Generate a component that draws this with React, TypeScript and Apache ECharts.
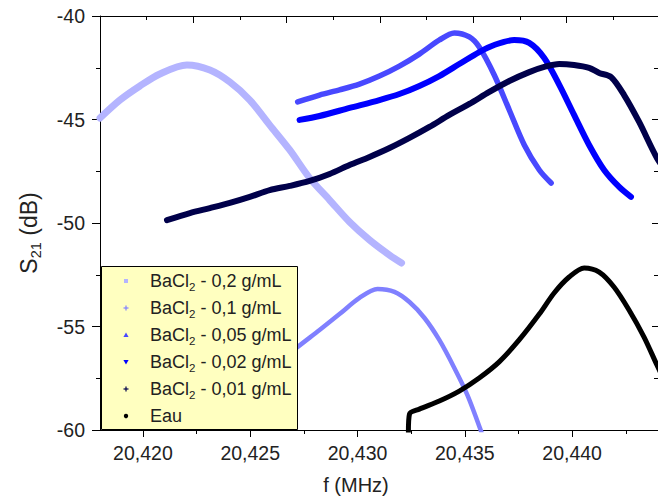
import React, { useEffect, useRef } from 'react';
import * as echarts from 'echarts';

const SERIES_NAMES = [
  'BaCl2 - 0,2 g/mL',
  'BaCl2 - 0,1 g/mL',
  'BaCl2 - 0,05 g/mL',
  'BaCl2 - 0,02 g/mL',
  'BaCl2 - 0,01 g/mL',
  'Eau',
];
const SERIES_COLORS = ['#b4b4ff', '#8080ff', '#4848ff', '#0000ff', '#00004a', '#000000'];
const SERIES_WIDTHS = [7, 4.5, 5.5, 6, 6, 5];
const LEGEND_MARKERS = ['square', 'plus', 'triangle', 'invtriangle', 'plus', 'dot'];

// BaCl2 0,2 g/mL
const F_02 = [20.418, 20.41893, 20.41986, 20.42079, 20.42205, 20.42312, 20.42405, 20.42498, 20.42591, 20.42684, 20.42777, 20.4287, 20.42963, 20.43056, 20.43149, 20.43205];
const S_02 = [-44.93, -44.06, -43.38, -42.8, -42.37, -42.61, -43.19, -44.06, -45.27, -46.47, -47.83, -48.89, -49.95, -50.82, -51.55, -51.93];

// BaCl2 0,1 g/mL
const F_01 = [20.4266, 20.42721, 20.42823, 20.42916, 20.43009, 20.43093, 20.43172, 20.43242, 20.43312, 20.43381, 20.43451, 20.43512, 20.43577];
const S_01 = [-56.52, -55.99, -55.17, -54.4, -53.62, -53.19, -53.33, -53.82, -54.59, -55.65, -57.0, -58.31, -60.1];

// BaCl2 0,05 g/mL
const F_005 = [20.42721, 20.42823, 20.42916, 20.43009, 20.43102, 20.43195, 20.43288, 20.43381, 20.43451, 20.43521, 20.43567, 20.43637, 20.43707, 20.43777, 20.43847, 20.43902];
const S_005 = [-44.15, -43.82, -43.57, -43.29, -42.9, -42.42, -41.84, -41.16, -40.82, -41.01, -41.5, -42.85, -44.54, -46.23, -47.44, -48.07];

// BaCl2 0,02 g/mL
const F_002 = [20.4273, 20.42823, 20.42963, 20.43102, 20.43195, 20.43288, 20.43381, 20.43474, 20.43567, 20.43637, 20.4373, 20.438, 20.4387, 20.4394, 20.44009, 20.44079, 20.44149, 20.44219, 20.44274];
const S_002 = [-45.02, -44.83, -44.44, -44.06, -43.77, -43.38, -42.9, -42.32, -41.74, -41.4, -41.16, -41.3, -42.03, -43.33, -44.78, -46.23, -47.44, -48.26, -48.74];

// BaCl2 0,01 g/mL
const F_001 = [20.42112, 20.42219, 20.42312, 20.42405, 20.42498, 20.42591, 20.42684, 20.42777, 20.4287, 20.42963, 20.43056, 20.43149, 20.43242, 20.43335, 20.43428, 20.43521, 20.43614, 20.43707, 20.438, 20.4387, 20.4394, 20.44009, 20.44079, 20.44126, 20.44181, 20.44242, 20.44312, 20.44395, 20.44442];
const S_001 = [-49.86, -49.52, -49.28, -49.03, -48.74, -48.41, -48.21, -47.97, -47.63, -47.2, -46.81, -46.38, -45.89, -45.36, -44.78, -44.25, -43.67, -43.14, -42.71, -42.46, -42.32, -42.37, -42.51, -42.75, -42.95, -43.82, -45.12, -46.86, -47.54];

// Eau
const F_EAU = [20.43237, 20.43242, 20.43288, 20.43381, 20.43474, 20.43567, 20.4366, 20.43753, 20.43847, 20.43916, 20.43986, 20.44056, 20.44126, 20.44195, 20.44265, 20.44335, 20.44395, 20.44428];
const S_EAU = [-60.1, -59.23, -58.99, -58.6, -58.12, -57.49, -56.71, -55.65, -54.4, -53.38, -52.61, -52.17, -52.37, -53.09, -54.2, -55.51, -56.86, -57.58];

const FREQS = [F_02, F_01, F_005, F_002, F_001, F_EAU];
const S21S = [S_02, S_01, S_005, S_002, S_001, S_EAU];

const X_MIN = 20.418;
const X_MAX = 20.444;
const X_MAJOR_TICKS = [20.42, 20.425, 20.43, 20.435, 20.44];
const X_MINOR_TICKS = [20.4225, 20.4275, 20.4325, 20.4375, 20.4425];
const Y_MIN = -60;
const Y_MAX = -40;

const FONT = "'Liberation Sans', Arial, sans-serif";
const TEXT = '#222';

function legendLabel(name: string) {
  return name.startsWith('BaCl2')
    ? '{a|BaCl}{b|2}{a|' + name.slice(5) + '}'
    : '{a|' + name + '}{b| }';
}

function legendMarker(kind: string, cx: number, cy: number, color: string): any[] {
  const z = 101;
  if (kind === 'square') {
    return [{ type: 'rect', z, shape: { x: cx - 2, y: cy - 2, width: 4, height: 4 }, style: { fill: color } }];
  }
  if (kind === 'plus') {
    return [
      { type: 'rect', z, shape: { x: cx - 2.5, y: cy - 0.6, width: 5, height: 1.2 }, style: { fill: color } },
      { type: 'rect', z, shape: { x: cx - 0.6, y: cy - 2.5, width: 1.2, height: 5 }, style: { fill: color } },
    ];
  }
  if (kind === 'triangle') {
    return [{ type: 'polygon', z, shape: { points: [[cx, cy - 2.5], [cx + 2.6, cy + 2], [cx - 2.6, cy + 2]] }, style: { fill: color } }];
  }
  if (kind === 'invtriangle') {
    return [{ type: 'polygon', z, shape: { points: [[cx - 2.6, cy - 2], [cx + 2.6, cy - 2], [cx, cy + 2.5]] }, style: { fill: color } }];
  }
  return [{ type: 'circle', z, shape: { cx, cy, r: 2.2 }, style: { fill: color } }];
}

export default function App() {
  const ref = useRef<HTMLDivElement>(null);
  useEffect(() => {
    const chart = echarts.init(ref.current!, null, { renderer: 'svg' });
    const series = SERIES_NAMES.map((name, i) => ({
      type: 'line',
      name,
      data: FREQS[i].map((f, j) => [f, S21S[i][j]]),
      symbol: 'none',
      smooth: 0.3,
      clip: true,
      color: SERIES_COLORS[i],
      itemStyle: { color: SERIES_COLORS[i] },
      lineStyle: { color: SERIES_COLORS[i], width: SERIES_WIDTHS[i], cap: 'round', join: 'round' },
      xAxisIndex: 0,
      yAxisIndex: 0,
    }));

    const legendBox = { x: 101.5, y: 266.5, w: 196, h: 163 };
    const rowY = SERIES_NAMES.map((_, i) => 281 + i * 27);
    const legendElements: any[] = [
      {
        type: 'rect',
        z: 100,
        shape: { x: legendBox.x, y: legendBox.y, width: legendBox.w, height: legendBox.h },
        style: { fill: '#ffffc0', stroke: '#000', lineWidth: 1 },
      },
    ];
    SERIES_NAMES.forEach((name, i) => {
      legendElements.push(...legendMarker(LEGEND_MARKERS[i], 126, rowY[i], SERIES_COLORS[i]));
      legendElements.push({
        type: 'text',
        z: 101,
        x: 150,
        y: rowY[i],
        style: {
          text: legendLabel(name),
          fill: TEXT,
          fontFamily: FONT,
          fontSize: 18,
          verticalAlign: 'middle',
          align: 'left',
          rich: {
            a: { fontFamily: FONT, fontSize: 18, lineHeight: 24, fill: TEXT, color: TEXT },
            b: { fontFamily: FONT, fontSize: 11.5, lineHeight: 12, padding: [12, 0, 0, 0], fill: TEXT, color: TEXT },
          },
        },
      });
    });

    const option = {
      animation: false,
      grid: { left: 100, top: 16, right: -1, bottom: 74, containLabel: false },
      xAxis: [
        {
          type: 'value',
          position: 'bottom',
          min: X_MIN,
          max: X_MAX,
          axisLine: { show: true, onZero: false, lineStyle: { color: '#000', width: 1 } },
          axisTick: { show: true, customValues: X_MAJOR_TICKS, length: 7, lineStyle: { color: '#000' } },
          axisLabel: {
            customValues: X_MAJOR_TICKS,
            formatter: (v: number) => v.toFixed(3).replace('.', ','),
            fontFamily: FONT,
            fontSize: 19.5,
            color: TEXT,
            margin: 13,
          },
          splitLine: { show: false },
          name: 'f (MHz)',
          nameLocation: 'middle',
          nameGap: 45,
          nameTextStyle: { fontFamily: FONT, fontSize: 20, color: TEXT, padding: [0, 46, 0, 0] },
        },
        {
          type: 'value',
          position: 'bottom',
          min: X_MIN,
          max: X_MAX,
          axisLine: { show: false, onZero: false },
          axisTick: { show: true, customValues: X_MINOR_TICKS, length: 4, lineStyle: { color: '#000' } },
          axisLabel: { show: false },
          splitLine: { show: false },
        },
        {
          type: 'value',
          position: 'top',
          min: 0,
          max: 11.96,
          interval: 2,
          axisLine: { show: true, onZero: false, lineStyle: { color: '#000', width: 1 } },
          axisTick: { show: true, inside: true, length: 7, lineStyle: { color: '#000', width: 1 } },
          minorTick: { show: true, splitNumber: 2, length: 4, lineStyle: { color: '#000', width: 1 } },
          axisLabel: { show: false },
          splitLine: { show: false },
          minorSplitLine: { show: false },
        },
      ],
      yAxis: [
        {
          type: 'value',
          position: 'left',
          min: Y_MIN,
          max: Y_MAX,
          interval: 5,
          axisLine: { show: true, onZero: false, lineStyle: { color: '#000', width: 1 } },
          axisTick: { show: true, length: 8, lineStyle: { color: '#000' } },
          minorTick: { show: true, splitNumber: 2, length: 4, lineStyle: { color: '#000' } },
          axisLabel: { fontFamily: FONT, fontSize: 19.5, color: TEXT, margin: 15 },
          splitLine: { show: false },
          minorSplitLine: { show: false },
          name: '{a|S}{b|21}{a| (dB)}',
          nameLocation: 'middle',
          nameGap: 57,
          nameTextStyle: {
            fontFamily: FONT,
            fontSize: 23,
            color: TEXT,
            padding: [0, 20, 0, 0],
            rich: {
              a: { fontFamily: FONT, fontSize: 23, lineHeight: 28, color: TEXT },
              b: { fontFamily: FONT, fontSize: 14.5, lineHeight: 14, padding: [14, 0, 0, 0], color: TEXT },
            },
          },
        },
        {
          type: 'value',
          position: 'right',
          min: Y_MIN,
          max: Y_MAX,
          interval: 5,
          axisLine: { show: true, onZero: false, lineStyle: { color: '#000', width: 1 } },
          axisTick: { show: true, inside: true, length: 6, lineStyle: { color: '#000' } },
          minorTick: { show: true, splitNumber: 2, length: 4, lineStyle: { color: '#000' } },
          axisLabel: { show: false },
          splitLine: { show: false },
          minorSplitLine: { show: false },
        },
      ],
      graphic: legendElements,
      series,
    };
    chart.setOption(option as any);
    return () => chart.dispose();
  }, []);
  return (
    <div
      ref={ref}
      style={{ position: 'fixed', left: 0, top: 0, width: 658, height: 504, background: '#fff' }}
    />
  );
}
